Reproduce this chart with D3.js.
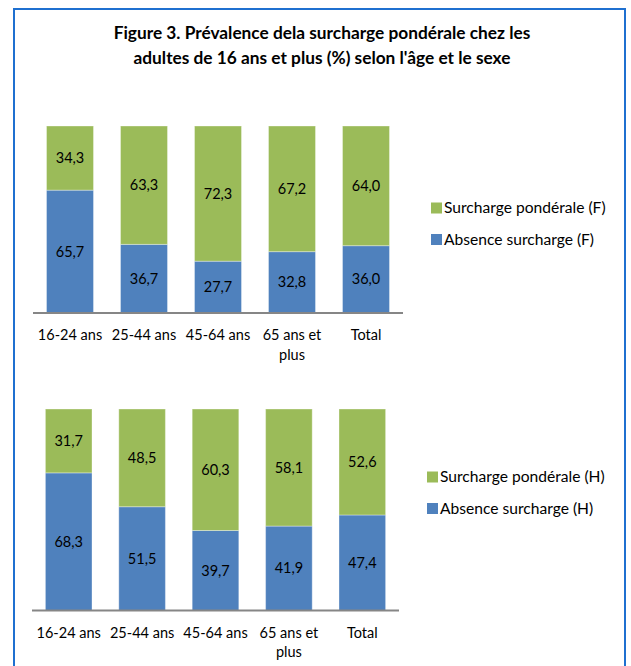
<!DOCTYPE html>
<html>
<head>
<meta charset="utf-8">
<script src="https://cdn.jsdelivr.net/npm/d3@7"></script>
<style>
  html, body { margin: 0; padding: 0; background: #fff; }
  svg { display: block; font-family: Lato, "Open Sans", sans-serif; }
</style>
</head>
<body>
<svg id="chart" width="631" height="666"></svg>
<script>
// Age groups shown on both panels
const categories = ["16-24 ans", "25-44 ans", "45-64 ans", "65 ans et plus", "Total"];

// Women (F)
const femmesAbsence   = [65.7, 36.7, 27.7, 32.8, 36.0];
const femmesSurcharge = [34.3, 63.3, 72.3, 67.2, 64.0];

// Men (H)
const hommesAbsence   = [68.3, 51.5, 39.7, 41.9, 47.4];
const hommesSurcharge = [31.7, 48.5, 60.3, 58.1, 52.6];

const seriesNamesF = ["Absence surcharge (F)", "Surcharge pondérale (F)"];
const seriesNamesH = ["Absence surcharge (H)", "Surcharge pondérale (H)"];

const titleLines = [
  "Figure 3. Prévalence dela surcharge pondérale chez les",
  "adultes de 16 ans et plus (%) selon l'âge et le sexe"
];

const colors = { absence: "#4F81BD", surcharge: "#9BBB59" };
const fmt = v => d3.format(".1f")(v).replace(".", ",");

const svg = d3.select("#chart");

// Outer frame
svg.append("rect")
  .attr("x", 14).attr("y", 9)
  .attr("width", 611).attr("height", 670)
  .attr("fill", "none")
  .attr("stroke", "#1F70D0")
  .attr("stroke-width", 2);

// Title
svg.append("text")
  .attr("x", 322).attr("text-anchor", "middle")
  .attr("font-weight", "bold").attr("font-size", 17.3)
  .attr("fill", "#000")
  .selectAll("tspan").data(titleLines).join("tspan")
  .attr("x", 322)
  .attr("y", (d, i) => 39 + i * 25)
  .text(d => d);

function wrap(sel, width) {
  sel.each(function () {
    const text = d3.select(this);
    const words = text.text().split(/\s+/);
    const y = text.attr("y");
    const dy = parseFloat(text.attr("dy")) || 0;
    text.text(null);
    let line = [];
    let lineNo = 0;
    let tspan = text.append("tspan").attr("x", 0).attr("y", y).attr("dy", dy + "em");
    for (const w of words) {
      line.push(w);
      tspan.text(line.join(" "));
      if (tspan.node().getComputedTextLength() > width && line.length > 1) {
        line.pop();
        tspan.text(line.join(" "));
        line = [w];
        tspan = text.append("tspan").attr("x", 0).attr("y", y)
          .attr("dy", (++lineNo * 1.35 + dy) + "em").text(w);
      }
    }
  });
}

function panel(opts) {
  const { absence, surcharge, names, x0, x1, yBase, yTop, legendX, legendY } = opts;

  const x = d3.scaleBand().domain(categories).range([x0, x1])
    .paddingInner(0.365).paddingOuter(0.1825);
  const y = d3.scaleLinear().domain([0, 100]).range([yBase, yTop]);

  const rows = categories.map((c, i) => ({ cat: c, absence: absence[i], surcharge: surcharge[i] }));
  const stack = d3.stack().keys(["absence", "surcharge"])(rows);

  const g = svg.append("g");

  const layers = g.selectAll("g.layer").data(stack).join("g")
    .attr("class", "layer")
    .attr("fill", d => colors[d.key]);

  layers.selectAll("rect").data(d => d).join("rect")
    .attr("x", d => x(d.data.cat))
    .attr("width", x.bandwidth())
    .attr("y", d => y(d[1]))
    .attr("height", d => y(d[0]) - y(d[1]))
    .attr("stroke", "rgba(255,255,255,0.35)")
    .attr("stroke-width", 1);

  layers.selectAll("text").data(d => d.map(v => Object.assign({ key: d.key }, v))).join("text")
    .attr("x", d => x(d.data.cat) + x.bandwidth() / 2)
    .attr("y", d => (y(d[0]) + y(d[1])) / 2)
    .attr("dy", "0.35em")
    .attr("text-anchor", "middle")
    .attr("font-size", 14.5)
    .attr("fill", "#000")
    .text(d => fmt(d.data[d.key]));

  // Category axis
  const axis = g.append("g")
    .attr("transform", `translate(0,${yBase})`)
    .call(d3.axisBottom(x).tickSize(0).tickPadding(17));
  axis.select(".domain")
    .attr("stroke", "#868686").attr("stroke-width", 2)
    .attr("d", `M${x0},0H${x1}`);
  axis.selectAll(".tick text")
    .attr("font-size", 14.5)
    .attr("font-family", "Lato, 'Open Sans', sans-serif")
    .attr("fill", "#000")
    .call(wrap, x.step());

  // Legend: overweight first, then no overweight
  const legendItems = [
    { key: "surcharge", label: names[1] },
    { key: "absence", label: names[0] }
  ];
  const lg = g.selectAll("g.legend").data(legendItems).join("g")
    .attr("class", "legend")
    .attr("transform", (d, i) => `translate(${legendX},${legendY + i * 31.5})`);
  lg.append("rect")
    .attr("x", 0).attr("y", -5.5)
    .attr("width", 11).attr("height", 11)
    .attr("fill", d => colors[d.key]);
  lg.append("text")
    .attr("x", 13).attr("y", 0).attr("dy", "0.35em")
    .attr("font-size", 15.6).attr("fill", "#000")
    .text(d => d.label);
}

panel({
  absence: femmesAbsence, surcharge: femmesSurcharge, names: seriesNamesF,
  x0: 33, x1: 403, yBase: 313, yTop: 126, legendX: 431, legendY: 208
});

panel({
  absence: hommesAbsence, surcharge: hommesSurcharge, names: seriesNamesH,
  x0: 32, x1: 399, yBase: 610.5, yTop: 409, legendX: 427, legendY: 477
});
</script>
</body>
</html>
